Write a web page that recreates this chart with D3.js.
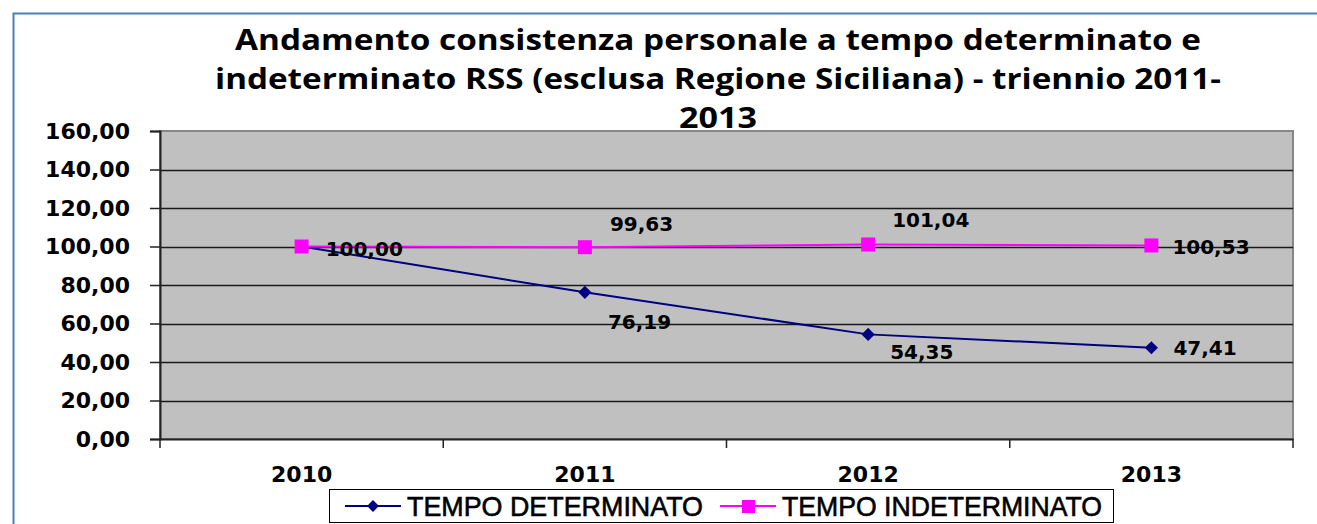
<!DOCTYPE html>
<html lang="it">
<head>
<meta charset="utf-8">
<script src="https://cdn.jsdelivr.net/npm/d3@7"></script>
<style>
  body { margin: 0; background: #fff; }
  svg { display: block; }
</style>
</head>
<body>
<svg id="chart" width="1317" height="524"></svg>
<script>
// data
var years = ["2010", "2011", "2012", "2013"];
var determinato = [100.00, 76.19, 54.35, 47.41];
var indeterminato = [100.00, 99.63, 101.04, 100.53];
var yTicks = [0, 20, 40, 60, 80, 100, 120, 140, 160];
var titleLines = [
  "Andamento consistenza personale a tempo determinato e",
  "indeterminato RSS (esclusa Regione Siciliana) - triennio 2011-",
  "2013"
];
var seriesNames = ["TEMPO DETERMINATO", "TEMPO INDETERMINATO"];

var svg = d3.select("#chart");
var fmt = function(v) { return d3.format(".2f")(v).replace(".", ","); };

// outer frame (only top / left edges visible)
svg.append("rect")
  .attr("x", 13.5).attr("y", 13.5)
  .attr("width", 1400).attr("height", 600)
  .style("fill", "#fff")
  .style("stroke", "#4a7ebb")
  .style("stroke-width", 2);

var plot = { left: 160, right: 1293, top: 131, bottom: 439 };

var x = d3.scaleBand().domain(years).range([plot.left, plot.right]);
var y = d3.scaleLinear().domain([0, 160]).range([plot.bottom, plot.top]);

// title
var titleWidths = [966, 1006, 78];
svg.append("g").selectAll("text")
  .data(titleLines)
  .enter().append("text")
  .attr("x", 718)
  .attr("y", function(d, i) { return 50 + i * 39; })
  .attr("text-anchor", "middle")
  .attr("textLength", function(d, i) { return titleWidths[i]; })
  .attr("lengthAdjust", "spacingAndGlyphs")
  .style("font-family", "'Open Sans', Lato, sans-serif")
  .style("font-weight", "bold")
  .style("font-size", "29px")
  .style("fill", "#000")
  .text(function(d) { return d; });

// plot background
svg.append("rect")
  .attr("x", plot.left).attr("y", plot.top)
  .attr("width", plot.right - plot.left).attr("height", plot.bottom - plot.top)
  .style("fill", "#c0c0c0")
  .style("stroke", "#868686")
  .style("stroke-width", 2);

// gridlines
svg.append("g").selectAll("line")
  .data(yTicks.slice(1, -1))
  .enter().append("line")
  .attr("x1", plot.left).attr("x2", plot.right)
  .attr("y1", function(d) { return Math.round(y(d)) + 0.5; })
  .attr("y2", function(d) { return Math.round(y(d)) + 0.5; })
  .style("stroke", "#1a1a1a")
  .style("stroke-width", 1.3);

var axisFont = function(sel) {
  sel.style("font-family", "'DejaVu Sans', Verdana, sans-serif")
    .style("font-weight", "bold")
    .style("font-size", "22px")
    .style("fill", "#000");
};

// y axis
var yAxis = svg.append("g")
  .attr("transform", "translate(" + plot.left + ",0)")
  .call(d3.axisLeft(y).tickValues(yTicks).tickSize(10).tickPadding(20).tickFormat(fmt));
yAxis.select(".domain").style("stroke", "#222").style("stroke-width", 2);
yAxis.selectAll(".tick line").style("stroke", "#222").style("stroke-width", 1.5);
yAxis.selectAll("text").call(axisFont);

// x axis
var xAxis = svg.append("g")
  .attr("transform", "translate(0," + plot.bottom + ")")
  .call(d3.axisBottom(x).tickSize(0).tickPadding(27));
xAxis.select(".domain").style("stroke", "#222").style("stroke-width", 2);
xAxis.selectAll("text").call(axisFont);
// tick marks between categories
svg.append("g").selectAll("line")
  .data(d3.range(years.length + 1))
  .enter().append("line")
  .attr("x1", function(i) { return plot.left + i * x.step(); })
  .attr("x2", function(i) { return plot.left + i * x.step(); })
  .attr("y1", plot.bottom).attr("y2", plot.bottom + 9)
  .style("stroke", "#222").style("stroke-width", 1.5);

var cx = function(d, i) { return x(years[i]) + x.bandwidth() / 2; };
var line = d3.line().x(cx).y(function(d) { return y(d); });

// determinato series
svg.append("path")
  .attr("d", line(determinato))
  .style("fill", "none").style("stroke", "#000080").style("stroke-width", 2);
svg.append("g").selectAll("path")
  .data(determinato)
  .enter().append("path")
  .attr("d", d3.symbol().type(d3.symbolDiamond2).size(110))
  .attr("transform", function(d, i) { return "translate(" + cx(d, i) + "," + y(d) + ")"; })
  .style("fill", "#000080");

// indeterminato series
svg.append("path")
  .attr("d", line(indeterminato))
  .style("fill", "none").style("stroke", "#ff00ff").style("stroke-width", 2);
svg.append("g").selectAll("rect")
  .data(indeterminato)
  .enter().append("rect")
  .attr("x", function(d, i) { return cx(d, i) - 7; })
  .attr("y", function(d) { return y(d) - 7; })
  .attr("width", 14).attr("height", 14)
  .style("fill", "#ff00ff");

// data labels
var labelStyle = function(sel) {
  sel.style("font-family", "'DejaVu Sans', Verdana, sans-serif")
    .style("font-weight", "bold")
    .style("font-size", "20px")
    .style("fill", "#000");
};
var detOffset = [[0, 0], [23, 37], [22, 25], [22, 7]];
var indOffset = [[24, 9], [25, -16], [24, -17], [21, 9]];
svg.append("g").selectAll("text")
  .data(determinato)
  .enter().append("text")
  .attr("x", function(d, i) { return cx(d, i) + detOffset[i][0]; })
  .attr("y", function(d, i) { return y(d) + detOffset[i][1]; })
  .text(function(d, i) { return i === 0 ? "" : fmt(d); })
  .call(labelStyle);
svg.append("g").selectAll("text")
  .data(indeterminato)
  .enter().append("text")
  .attr("x", function(d, i) { return cx(d, i) + indOffset[i][0]; })
  .attr("y", function(d, i) { return y(d) + indOffset[i][1]; })
  .text(function(d) { return fmt(d); })
  .call(labelStyle);

// legend
var legend = svg.append("g").attr("transform", "translate(329,489)");
legend.append("rect")
  .attr("x", 0.5).attr("y", 0.5).attr("width", 784).attr("height", 33)
  .style("fill", "#fff").style("stroke", "#000").style("stroke-width", 1);
var legendItems = [
  { name: seriesNames[0], color: "#000080", shape: "diamond", x: 16, w: 296 },
  { name: seriesNames[1], color: "#ff00ff", shape: "square", x: 391, w: 320 }
];
legendItems.forEach(function(it) {
  var g = legend.append("g").attr("transform", "translate(" + it.x + ",17)");
  g.append("line").attr("x1", 0).attr("x2", 56).attr("y1", 0).attr("y2", 0)
    .style("stroke", it.color).style("stroke-width", 2);
  if (it.shape === "diamond") {
    g.append("path").attr("d", d3.symbol().type(d3.symbolDiamond2).size(90))
      .attr("transform", "translate(28,0)").style("fill", it.color);
  } else {
    g.append("rect").attr("x", 22).attr("y", -6).attr("width", 13).attr("height", 13)
      .style("fill", it.color);
  }
  g.append("text")
    .attr("x", 62).attr("y", 10)
    .attr("textLength", it.w).attr("lengthAdjust", "spacingAndGlyphs")
    .style("font-family", "'Liberation Sans Narrow', 'Liberation Sans', sans-serif")
    .style("font-size", "28px")
    .style("fill", "#000")
    .style("stroke", "#000")
    .style("stroke-width", 0.6)
    .text(it.name);
});
</script>
</body>
</html>
